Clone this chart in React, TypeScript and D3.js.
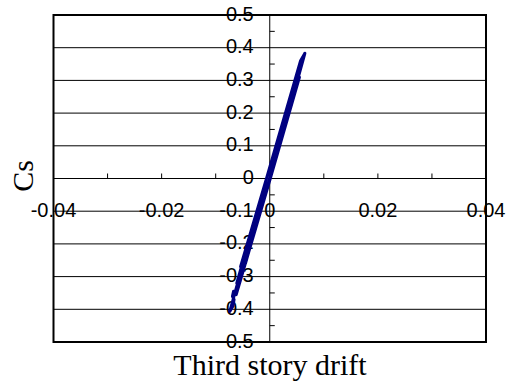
import React from "react";
import * as d3 from "d3";

const xTickLabels = [-0.04, -0.02, 0, 0.02, 0.04];
const xMinorTicks = [-0.03, -0.02, -0.01, 0.01, 0.02, 0.03];
const yTickLabels = [0.5, 0.4, 0.3, 0.2, 0.1, 0, -0.1, -0.2, -0.3, -0.4, -0.5];
const yMinorTicks = [0.45, 0.35, 0.25, 0.15, 0.05, -0.05, -0.15, -0.25, -0.35, -0.45];

// Hysteresis response: third story drift vs base shear coefficient Cs
const drift = [
  0, 0.0027, 0.002, -0.0006, -0.0037, -0.0031, 0.0001, 0.0048, 0.004, -0.0006,
  -0.0061, -0.0054, 0.0001, 0.0065, 0.0057, -0.0006, -0.0074, -0.0068, -0.0066,
  -0.0069, -0.0067, -0.0062, 0.0001, 0.0055, 0.0047, -0.0006, -0.0054, -0.0045, 0,
];
const cs = [
  0, 0.15, 0.14, 0, -0.19, -0.18, 0, 0.27, 0.26, 0,
  -0.32, -0.31, 0, 0.383, 0.36, 0, -0.407, -0.39, -0.37,
  -0.36, -0.345, -0.355, 0, 0.31, 0.3, 0, -0.27, -0.26, 0,
];

const W = 510;
const H = 385;
const left = 53.5;
const right = 486;
const top = 15;
const bottom = 342;

export default function App() {
  const x = d3.scaleLinear().domain([-0.04, 0.04]).range([left, right]);
  const y = d3.scaleLinear().domain([-0.5, 0.5]).range([bottom, top]);
  const pts = drift.map((d, i) => [d, cs[i]] as [number, number]);
  const line = d3
    .line<[number, number]>()
    .x((d) => x(d[0]))
    .y((d) => y(d[1]));
  const x0 = x(0);
  const y0 = y(0);
  const sans = "'Liberation Sans', Arial, sans-serif";
  const serif = "'Liberation Serif', 'Times New Roman', serif";
  const fmtX = (v: number) => (v === 0 ? "0" : d3.format(".2f")(v).replace("−", "-"));
  const fmtY = (v: number) => (v === 0 ? "0" : d3.format(".1f")(v).replace("−", "-"));
  return (
    <svg
      width={W}
      height={H}
      style={{ position: "absolute", left: 0, top: 0, background: "#fff" }}
    >
      <rect x={0} y={0} width={W} height={H} fill="#fff" />
      {yTickLabels.map((v) => (
        <line key={"g" + v} x1={left} x2={right} y1={y(v)} y2={y(v)} stroke="#000" strokeWidth={1} />
      ))}
      <line x1={x0} x2={x0} y1={top} y2={bottom} stroke="#000" strokeWidth={1} />
      {yMinorTicks.map((v) => (
        <line key={"ym" + v} x1={x0} x2={x0 + 5} y1={y(v)} y2={y(v)} stroke="#000" strokeWidth={1} />
      ))}
      {xMinorTicks.map((v) => (
        <line key={"xm" + v} x1={x(v)} x2={x(v)} y1={y0} y2={y0 - 5} stroke="#000" strokeWidth={1} />
      ))}
      {yTickLabels.map((v) => (
        <text
          key={"yl" + v}
          x={x0 - 16}
          y={y(v) + 5.5}
          textAnchor="end"
          fontFamily={sans}
          fontSize={20}
          fill="#000"
        >
          {fmtY(v)}
        </text>
      ))}
      {xTickLabels.map((v) => (
        <text
          key={"xl" + v}
          x={x(v)}
          y={217}
          textAnchor="middle"
          fontFamily={sans}
          fontSize={20}
          fill="#000"
        >
          {fmtX(v)}
        </text>
      ))}
      <path d={line(pts) || ""} fill="none" stroke="#000080" strokeWidth={3} strokeLinejoin="round" />
      <rect
        x={left}
        y={top}
        width={right - left}
        height={bottom - top}
        fill="none"
        stroke="#000"
        strokeWidth={2}
      />
      <text x={270} y={375} textAnchor="middle" fontFamily={serif} fontSize={30} fill="#000">
        Third story drift
      </text>
      <text
        transform={`translate(33,176) rotate(-90)`}
        textAnchor="middle"
        fontFamily={serif}
        fontSize={30}
        fill="#000"
      >
        Cs
      </text>
    </svg>
  );
}
